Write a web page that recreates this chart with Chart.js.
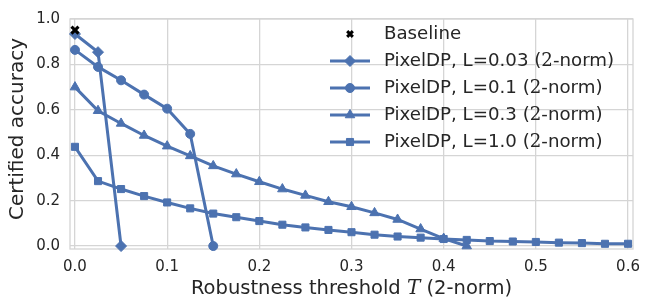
<!DOCTYPE html>
<html>
<head>
<meta charset="utf-8">
<script src="https://cdn.jsdelivr.net/npm/chart.js@4.4.1/dist/chart.umd.min.js"></script>
<style>
html, body { margin: 0; padding: 0; background: #fff; }
#wrap { width: 650px; height: 302px; }
</style>
</head>
<body>
<div id="wrap"><canvas id="chart" width="650" height="302"></canvas></div>
<script>
// Robustness thresholds T (x values)
const thresholds = [0, 0.025, 0.05, 0.075, 0.1, 0.125, 0.15, 0.175, 0.2, 0.225, 0.25, 0.275,
    0.3, 0.325, 0.35, 0.375, 0.4, 0.425, 0.45, 0.475, 0.5, 0.525, 0.55, 0.575, 0.6];

// Certified accuracy per model
const baseline = [0.951];
const accL003 = [0.934, 0.854, 0.0];
const accL01 = [0.864, 0.789, 0.730, 0.667, 0.605, 0.494, 0.0];
const accL03 = [0.700, 0.596, 0.540, 0.487, 0.440, 0.397, 0.353, 0.317, 0.283, 0.251, 0.223, 0.195,
    0.173, 0.146, 0.117, 0.075, 0.033, 0.0];
const accL10 = [0.437, 0.286, 0.251, 0.220, 0.192, 0.166, 0.143, 0.127, 0.110, 0.094, 0.082, 0.071,
    0.061, 0.050, 0.042, 0.037, 0.031, 0.027, 0.022, 0.020, 0.018, 0.015, 0.013, 0.010, 0.010];

const xTicks = [0, 0.1, 0.2, 0.3, 0.4, 0.5, 0.6];
const yTicks = [0, 0.2, 0.4, 0.6, 0.8, 1.0];

const blue = '#4c72b0';
const gridColor = '#d5d5d5';
const textColor = '#262626';
const sans = 'DejaVu Sans';

function toPoints(values) {
    return values.map((v, i) => ({x: thresholds[i], y: v}));
}

function series(label, values, style, radius) {
    return {
        label: label,
        data: toPoints(values),
        borderColor: blue,
        backgroundColor: blue,
        borderWidth: 3,
        pointStyle: style,
        pointRadius: radius,
        pointBorderWidth: 1,
        clip: false
    };
}

const datasets = [
    {
        label: 'Baseline',
        data: toPoints(baseline),
        showLine: false,
        pointStyle: 'crossRot',
        pointRadius: 5,
        pointBorderWidth: 3,
        borderColor: '#000',
        backgroundColor: '#000',
        clip: false
    },
    series('PixelDP, L=0.03 (2-norm)', accL003, 'rectRot', 5.5),
    series('PixelDP, L=0.1 (2-norm)', accL01, 'circle', 4.5),
    series('PixelDP, L=0.3 (2-norm)', accL03, 'triangle', 5.5),
    series('PixelDP, L=1.0 (2-norm)', accL10, 'rect', 5)
];
datasets.forEach((d, i) => { d.order = i === 0 ? 0 : 5 - i; });

// draw text pieces one after the other, each with its own font
function drawPieces(ctx, x, y, pieces) {
    let cx = x;
    pieces.forEach(p => {
        ctx.font = p[1];
        ctx.fillText(p[0], cx, y);
        cx += ctx.measureText(p[0]).width;
    });
    return cx;
}

function piecesWidth(ctx, pieces) {
    let w = 0;
    pieces.forEach(p => { ctx.font = p[1]; w += ctx.measureText(p[0]).width; });
    return w;
}

const decorPlugin = {
    id: 'decor',
    beforeDatasetsDraw(chart) {
        const ctx = chart.ctx;
        const a = chart.chartArea;
        ctx.save();
        ctx.strokeStyle = gridColor;
        ctx.lineWidth = 1.3;
        ctx.strokeRect(a.left, a.top, a.right - a.left, a.bottom - a.top);
        ctx.restore();
    },
    afterDraw(chart) {
        const ctx = chart.ctx;
        const a = chart.chartArea;
        ctx.save();
        ctx.fillStyle = textColor;
        ctx.textBaseline = 'middle';

        // x axis title with italic T
        const titleFont = '19.5px "' + sans + '"';
        const xPieces = [['Robustness threshold ', titleFont], ['T', 'italic 20px "DejaVu Serif"'],
            [' (2-norm)', titleFont]];
        const w = piecesWidth(ctx, xPieces);
        drawPieces(ctx, (a.left + a.right) / 2 - w / 2, 289, xPieces);

        // y axis title
        ctx.save();
        ctx.translate(18, 129);
        ctx.rotate(-Math.PI / 2);
        ctx.font = '20px "' + sans + '"';
        ctx.textAlign = 'center';
        ctx.fillText('Certified accuracy', 0, 0);
        ctx.restore();

        // legend
        const legFont = '18.2px "' + sans + '"';
        const mathFont = '18.2px "DejaVu Serif"';
        const rows = [34, 61, 88, 115, 142];
        const lineX0 = 330, lineX1 = 370, markX = 350, textX = 384;
        chart.data.datasets.forEach((d, i) => {
            const y = rows[i];
            if (i > 0) {
                ctx.strokeStyle = blue;
                ctx.lineWidth = 3;
                ctx.beginPath();
                ctx.moveTo(lineX0, y);
                ctx.lineTo(lineX1, y);
                ctx.stroke();
            }
            ctx.fillStyle = d.backgroundColor;
            ctx.strokeStyle = d.borderColor;
            ctx.lineWidth = d.pointBorderWidth;
            Chart.helpers.drawPoint(ctx, {
                pointStyle: d.pointStyle,
                radius: i === 0 ? 4 : d.pointRadius,
                rotation: 0,
                borderWidth: d.pointBorderWidth
            }, markX, y);
            ctx.fillStyle = textColor;
            if (i === 0) {
                drawPieces(ctx, textX, y, [[d.label, legFont]]);
            } else {
                const parts = d.label.split('(2');
                drawPieces(ctx, textX, y, [[parts[0] + '(', legFont], ['2', mathFont], [parts[1], legFont]]);
            }
        });
        ctx.restore();
    }
};

new Chart(document.getElementById('chart'), {
    type: 'line',
    data: {datasets: datasets},
    options: {
        responsive: false,
        animation: false,
        layout: {padding: {left: 0, right: 17, top: 9, bottom: 0}},
        plugins: {legend: {display: false}, tooltip: {enabled: false}},
        elements: {line: {tension: 0}},
        scales: {
            x: {
                type: 'linear',
                min: -0.0054,
                max: 0.6054,
                afterBuildTicks: s => { s.ticks = xTicks.map(v => ({value: v})); },
                afterFit: s => { s.height = 53; },
                grid: {color: gridColor, lineWidth: 1.3, drawTicks: false},
                border: {display: false},
                ticks: {
                    padding: 9,
                    color: textColor,
                    font: {family: sans, size: 15},
                    callback: v => v.toFixed(1)
                }
            },
            y: {
                type: 'linear',
                min: -0.013,
                max: 1.0,
                afterBuildTicks: s => { s.ticks = yTicks.map(v => ({value: v})); },
                afterFit: s => { s.width = 70; },
                grid: {color: gridColor, lineWidth: 1.3, drawTicks: false},
                border: {display: false},
                ticks: {
                    padding: 10,
                    color: textColor,
                    font: {family: sans, size: 15},
                    callback: v => v.toFixed(1)
                }
            }
        }
    },
    plugins: [decorPlugin]
});
</script>
</body>
</html>
